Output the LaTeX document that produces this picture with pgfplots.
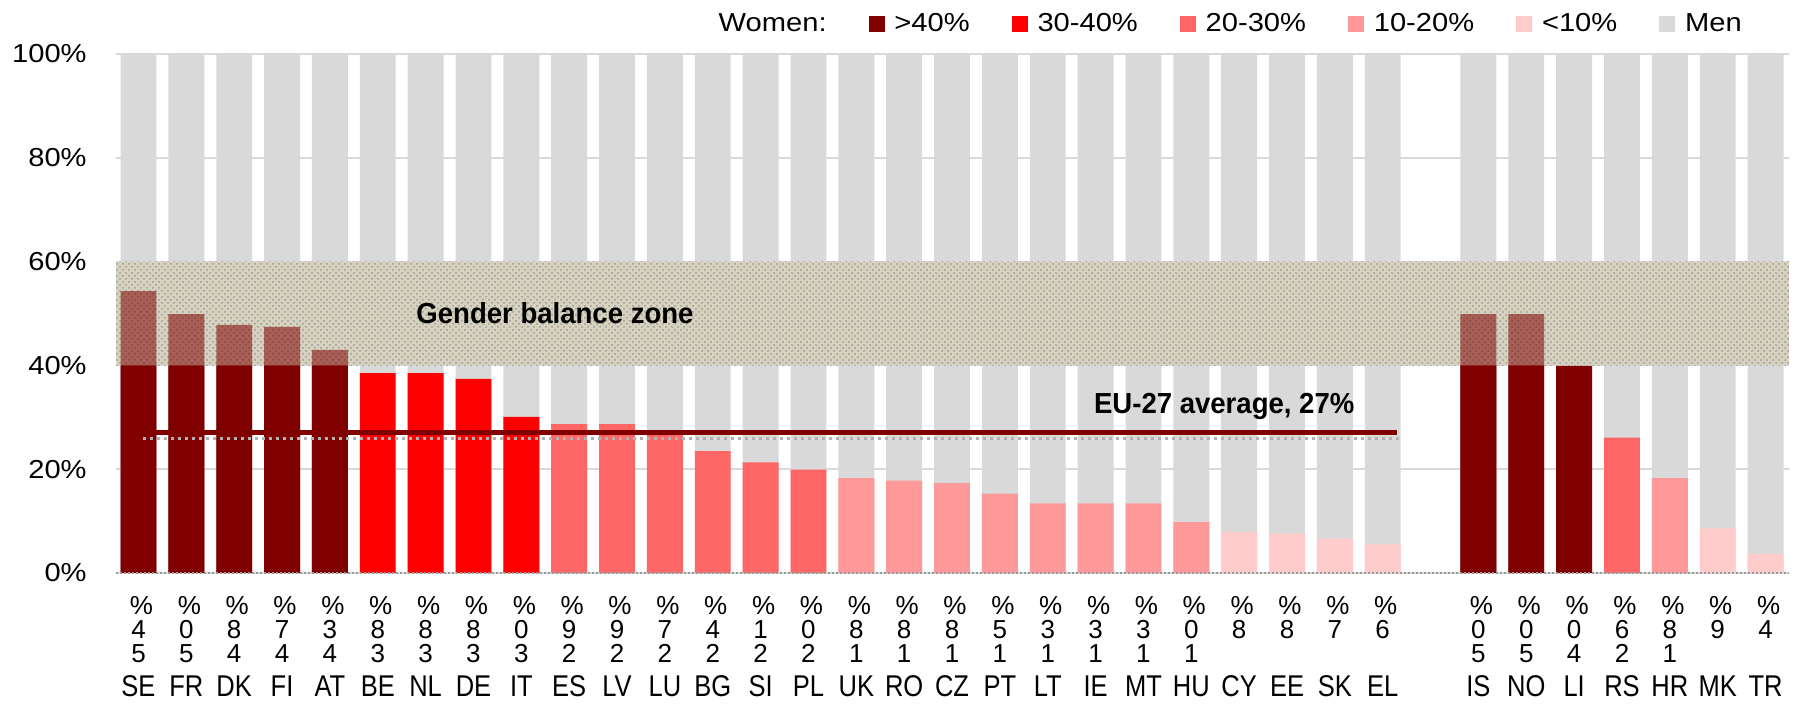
\documentclass[border=0pt]{standalone}
\usepackage{pgfplots}
\pgfplotsset{compat=1.18}
\usepackage{fontspec}
\setmainfont{Liberation Sans}
\newfontfamily\widefont[FakeStretch=1.12]{Liberation Sans}
\newfontfamily\narrowfont[FakeStretch=0.85]{Liberation Sans}
\newfontfamily\boldfont[FakeStretch=0.95]{Liberation Sans}
\usetikzlibrary{patterns}
\definecolor{cA}{HTML}{800000}
\definecolor{cB}{HTML}{FF0000}
\definecolor{cC}{HTML}{FF6666}
\definecolor{cD}{HTML}{FF9999}
\definecolor{cE}{HTML}{FFCCCC}
\definecolor{cMen}{HTML}{D9D9D9}
\definecolor{zone}{RGB}{214,210,190}
\def\stkparse#1#2\relax{\ifx\relax#2\relax\begin{tabular}{@{}c@{}}\hspace*{3pt}\%\\#1\end{tabular}\else\begin{tabular}{@{}c@{}}\hspace*{3pt}\%\\#2\\#1\end{tabular}\fi}
\newcommand\vlab{\edef\tmp{\pgfplotspointmeta}\expandafter\stkparse\tmp\relax}
\begin{document}
\begin{tikzpicture}
\useasboundingbox (-58pt,-66pt) rectangle (843.5pt,286.5pt);
\begin{axis}[
  at={(0,0)}, anchor=south west,
  scale only axis, width=836.5pt, height=259.5pt,
  xmin=-0.47, xmax=34.49, ymin=0, ymax=100,
  clip=false,
  axis line style={draw=none},
  major tick length=0pt,
  xtick={0,1,2,3,4,5,6,7,8,9,10,11,12,13,14,15,16,17,18,19,20,21,22,23,24,25,26,28,29,30,31,32,33,34},
  xticklabels={SE,FR,DK,FI,AT,BE,NL,DE,IT,ES,LV,LU,BG,SI,PL,UK,RO,CZ,PT,LT,IE,MT,HU,CY,EE,SK,EL,IS,NO,LI,RS,HR,MK,TR},
  xticklabel style={font=\narrowfont\fontsize{15}{16}\selectfont, anchor=north, inner sep=0pt, yshift=-51pt},
  ytick={0,20,40,60,80,100},
  yticklabels={0\%,20\%,40\%,60\%,80\%,100\%},
  yticklabel style={font=\widefont\fontsize{13}{15}\selectfont, anchor=east, inner sep=0pt, xshift=-14.5pt},
  ymajorgrids, grid style={cMen, line width=1pt},
  legend style={at={(0.972,1.0578)}, anchor=east, draw=none, fill=none, inner sep=0pt,
    legend columns=-1, font=\widefont\fontsize{13}{15}\selectfont,
    column sep=5pt, /tikz/every even column/.append style={column sep=21pt},
    nodes={inner sep=0pt}},
]
% men (background bars)
\addplot[ybar, bar width=0.75, bar shift=0pt, fill=cMen, draw=none, forget plot] coordinates {
 (0,100)(1,100)(2,100)(3,100)(4,100)(5,100)(6,100)(7,100)(8,100)(9,100)(10,100)(11,100)(12,100)(13,100)(14,100)(15,100)(16,100)(17,100)(18,100)(19,100)(20,100)(21,100)(22,100)(23,100)(24,100)(25,100)(26,100)
 (28,100)(29,100)(30,100)(31,100)(32,100)(33,100)(34,100)};
% gender balance zone
\addplot[fill=zone, draw=none, forget plot] coordinates {(-0.47,40)(34.49,40)(34.49,60)(-0.47,60)} -- cycle;
\addplot[pattern=crosshatch dots, pattern color=black!40, draw=none, forget plot] coordinates {(-0.47,40)(34.49,40)(34.49,60)(-0.47,60)} -- cycle;
% women >40% (translucent over the zone)
\addplot[ybar, bar width=0.75, bar shift=0pt, fill=cA, fill opacity=0.55, draw=none, forget plot] coordinates {
 (0,54.3)(1,49.9)(2,47.8)(3,47.4)(4,43.0)(28,49.9)(29,49.9)};
\addplot[ybar, bar width=0.75, bar shift=0pt, fill=cA, draw=none, forget plot] coordinates {
 (0,40)(1,40)(2,40)(3,40)(4,40)(28,40)(29,40)(30,39.9)};
% 30-40%
\addplot[ybar, bar width=0.75, bar shift=0pt, fill=cB, draw=none, forget plot] coordinates {
 (5,38.5)(6,38.5)(7,37.4)(8,30.1)};
% 20-30%
\addplot[ybar, bar width=0.75, bar shift=0pt, fill=cC, draw=none, forget plot] coordinates {
 (9,28.7)(10,28.7)(11,27.0)(12,23.5)(13,21.3)(14,19.9)(31,26.1)};
% 10-20%
\addplot[ybar, bar width=0.75, bar shift=0pt, fill=cD, draw=none, forget plot] coordinates {
 (15,18.3)(16,17.8)(17,17.3)(18,15.3)(19,13.4)(20,13.4)(21,13.4)(22,9.8)(32,18.3)};
% <10%
\addplot[ybar, bar width=0.75, bar shift=0pt, fill=cE, draw=none, forget plot] coordinates {
 (23,7.9)(24,7.6)(25,6.6)(26,5.5)(33,8.6)(34,3.7)};
% EU-27 average
\addplot[black!30, dotted, line width=1.5pt, forget plot] coordinates {(0.1,26.0)(26.4,26.0)};
\addplot[cA, line width=2.5pt, forget plot] coordinates {(0.1,27)(26.3,27)};
% baseline
\addplot[black!40, densely dotted, line width=1pt, forget plot] coordinates {(-0.47,0)(34.49,0)};
% value labels
\addplot[draw=none, mark=none, forget plot, point meta=explicit symbolic,
  nodes near coords=\vlab, nodes near coords align={below},
  every node near coord/.append style={anchor=north, inner sep=0pt, yshift=-11.3pt, font=\fontsize{13}{10.25}\selectfont}]
 coordinates {
 (0,0)[54](1,0)[50](2,0)[48](3,0)[47](4,0)[43](5,0)[38](6,0)[38](7,0)[38](8,0)[30](9,0)[29](10,0)[29](11,0)[27](12,0)[24](13,0)[21](14,0)[20]
 (15,0)[18](16,0)[18](17,0)[18](18,0)[15](19,0)[13](20,0)[13](21,0)[13](22,0)[10](23,0)[8](24,0)[8](25,0)[7](26,0)[6]
 (28,0)[50](29,0)[50](30,0)[40](31,0)[26](32,0)[18](33,0)[9](34,0)[4]};
\node[font=\boldfont\bfseries\fontsize{14.5}{16}\selectfont, anchor=west, inner sep=0pt] at (axis cs:5.80,50) {Gender balance zone};
\node[font=\boldfont\bfseries\fontsize{14.5}{16}\selectfont, anchor=west, inner sep=0pt] at (axis cs:19.96,32) {EU-27 average, 27\%};
% legend
\addlegendimage{empty legend}\addlegendentry{Women:}
\addlegendimage{legend image code/.code={\fill[cA] (0pt,-3.75pt) rectangle (7.5pt,3.75pt);}}\addlegendentry{>40\%}
\addlegendimage{legend image code/.code={\fill[cB] (0pt,-3.75pt) rectangle (7.5pt,3.75pt);}}\addlegendentry{30-40\%}
\addlegendimage{legend image code/.code={\fill[cC] (0pt,-3.75pt) rectangle (7.5pt,3.75pt);}}\addlegendentry{20-30\%}
\addlegendimage{legend image code/.code={\fill[cD] (0pt,-3.75pt) rectangle (7.5pt,3.75pt);}}\addlegendentry{10-20\%}
\addlegendimage{legend image code/.code={\fill[cE] (0pt,-3.75pt) rectangle (7.5pt,3.75pt);}}\addlegendentry{<10\%}
\addlegendimage{legend image code/.code={\fill[cMen] (0pt,-3.75pt) rectangle (7.5pt,3.75pt);}}\addlegendentry{Men}
\end{axis}
\end{tikzpicture}
\end{document}
